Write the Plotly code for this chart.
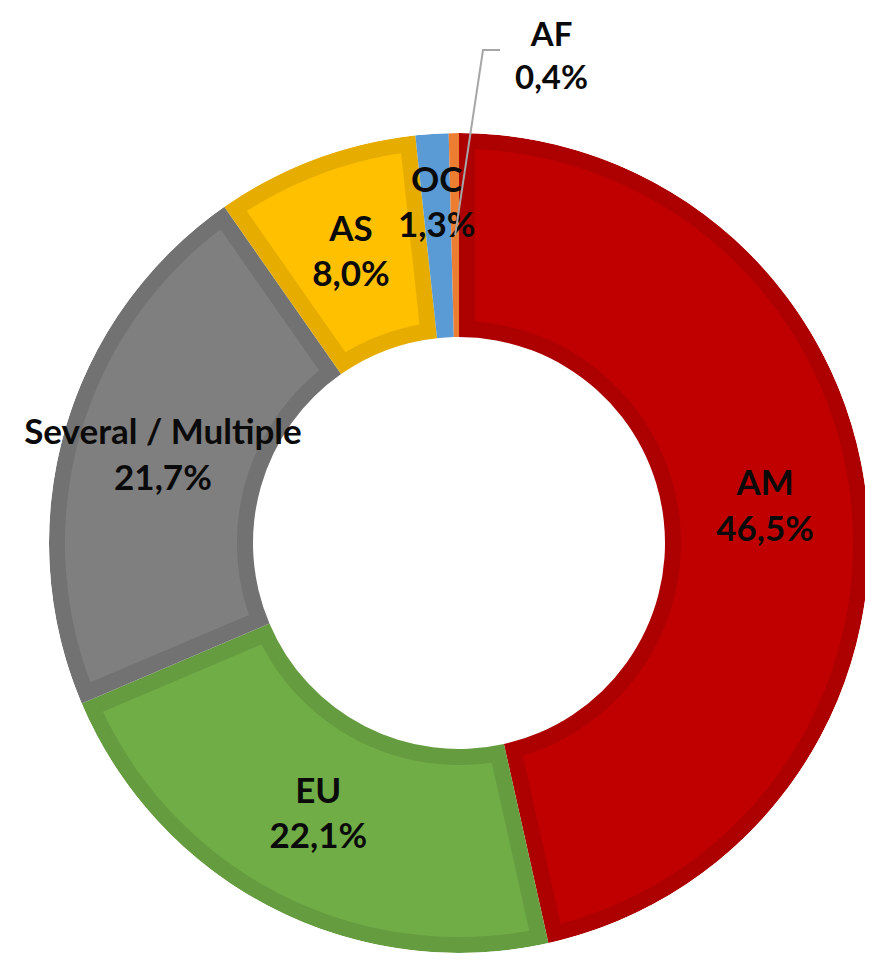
import numpy as np
import plotly.graph_objects as go

# ---- data ----
regions = ["AM", "EU", "Several / Multiple", "AS", "OC", "AF"]
shares = [46.5, 22.1, 21.7, 8.0, 1.3, 0.4]

# ---- styles ----
fill_colors = ["#C00000", "#70AD47", "#7F7F7F", "#FFC000", "#5B9BD5", "#ED7D31"]
edge_colors = ["#AD0000", "#659C40", "#727272", "#E6AD00", "#5B9BD5", "#ED7D31"]
label_r_shift = [0, 0, 0, 0, 30, 0]

W, H = 873, 962
OFF = 8                    # page body margin offset
cx, cy = 459 - OFF, 543 - OFF   # donut centre in figure pixels
R_OUT, R_IN = 410, 206     # radii in pixels
BORDER = 16
FONT = dict(family="Lato", size=35, color="#0A0A0A")
FONT_AF = dict(family="Lato", size=33, color="#0A0A0A")

def fmt(v):
    return f"{v:.1f}".replace(".", ",") + "%"

total = sum(shares)
starts = np.cumsum([0] + shares[:-1]) / total * 360.0
widths = np.array(shares) / total * 360.0
mids = starts + widths / 2

fig = go.Figure()

# dark base sectors (outline colour)
fig.add_trace(go.Barpolar(
    r=[R_OUT - R_IN] * len(shares), base=[R_IN] * len(shares),
    theta=mids, width=widths,
    marker=dict(color=edge_colors, line=dict(width=0)),
    hoverinfo="skip", showlegend=False,
))

# lighter inset of each sector
for a0, w, col in zip(starts, widths, fill_colors):
    a1 = a0 + w
    ro, ri = R_OUT - BORDER, R_IN + BORDER
    do = np.degrees(np.arcsin(BORDER / ro))
    di = np.degrees(np.arcsin(BORDER / ri))
    if (a1 - di) - (a0 + di) <= 0.5:
        continue
    t_out = np.linspace(a0 + do, a1 - do, 120)
    t_in = np.linspace(a1 - di, a0 + di, 120)
    th = np.concatenate([t_out, t_in, [t_out[0]]])
    rr = np.concatenate([np.full(120, ro), np.full(120, ri), [ro]])
    fig.add_trace(go.Scatterpolar(
        r=rr, theta=th, mode="lines", fill="toself", fillcolor=col,
        line=dict(width=0, color=col), hoverinfo="skip", showlegend=False,
    ))

# inside labels (all but the smallest slice)
lab_idx = [i for i in range(len(regions)) if regions[i] != "AF"]
fig.add_trace(go.Scatterpolar(
    r=[(R_OUT + R_IN) / 2 + label_r_shift[i] for i in lab_idx],
    theta=[mids[i] for i in lab_idx],
    mode="text",
    text=[f"<b>{regions[i]}</b><br><b>{fmt(shares[i])}</b>" for i in lab_idx],
    textfont=FONT, textposition="middle center",
    hoverinfo="skip", showlegend=False, cliponaxis=False,
))

# AF callout with leader line
af = regions.index("AF")
rm = (R_OUT + R_IN) / 2
px0 = cx + rm * np.sin(np.radians(mids[af]))
py0 = cy - rm * np.cos(np.radians(mids[af]))
def paper(x, y):
    return x / W, 1 - y / H
x0, y0 = paper(px0, py0)
x1, y1 = paper(483 - OFF, 50 - OFF)
x2, y2 = paper(500 - OFF, 50 - OFF)
fig.add_shape(type="path", xref="paper", yref="paper",
              path=f"M {x0} {y0} L {x1} {y1} L {x2} {y2}",
              line=dict(color="#A6A6A6", width=2))
fig.add_annotation(xref="paper", yref="paper", x=(551 - OFF) / W, y=1 - (54 - OFF) / H,
                   text=f"<b>{regions[af]}</b><br><b>{fmt(shares[af])}</b>",
                   showarrow=False, font=FONT_AF, xanchor="center", yanchor="middle")

fig.update_layout(
    width=W, height=H,
    margin=dict(l=0, r=0, t=0, b=0),
    paper_bgcolor="white",
    polar=dict(
        domain=dict(x=[(cx - R_OUT) / W, (cx + R_OUT) / W],
                    y=[(H - cy - R_OUT) / H, (H - cy + R_OUT) / H]),
        bgcolor="white",
        bargap=0,
        radialaxis=dict(range=[0, R_OUT], visible=False, showgrid=False),
        angularaxis=dict(rotation=90, direction="clockwise", visible=False,
                         showgrid=False),
    ),
)

fig.write_html("out.html")
